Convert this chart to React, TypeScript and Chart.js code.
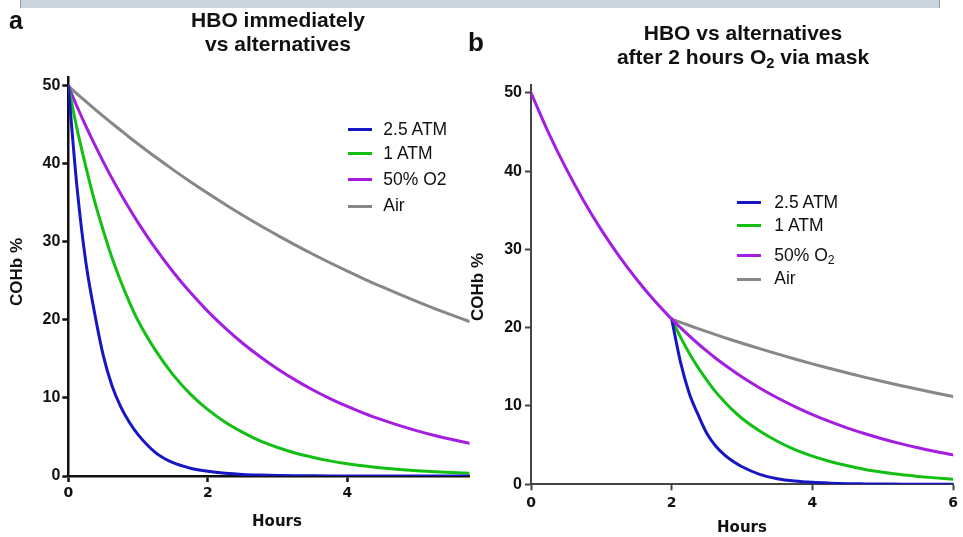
import React, { useEffect, useRef } from "react";
import { Chart, registerables } from "chart.js";

Chart.register(...registerables);

// ---------- data: panel a (HBO immediately vs alternatives) ----------
const hoursA = [0, 0.125, 0.25, 0.375, 0.5, 0.625, 0.75, 0.875, 1, 1.25, 1.5, 1.75, 2, 2.25, 2.5, 2.75, 3, 3.25, 3.5, 3.75, 4, 4.25, 4.5, 4.75, 5, 5.25, 5.5, 5.75];
const atm25A = [50, 37, 27.5, 21, 15.5, 11.6, 8.9, 6.9, 5.3, 3.0, 1.7, 1.0, 0.6, 0.35, 0.2, 0.12, 0.07, 0.04, 0.02, 0.01, 0.01, 0, 0, 0, 0, 0, 0, 0];
const atm1A = [50, 44.5, 39.7, 35.3, 31.5, 28, 25, 22.3, 19.9, 16.1, 13.0, 10.5, 8.5, 6.9, 5.6, 4.5, 3.65, 2.95, 2.4, 1.94, 1.57, 1.27, 1.03, 0.83, 0.67, 0.54, 0.44, 0.36];
const o2A = [50, 47.37, 44.89, 42.54, 40.31, 38.19, 36.19, 34.29, 32.49, 29.17, 26.19, 23.51, 21.11, 18.96, 17.02, 15.28, 13.72, 12.32, 11.06, 9.93, 8.92, 8.0, 7.19, 6.45, 5.79, 5.2, 4.67, 4.19];
const airA = [50, 49.0, 48.03, 47.07, 46.13, 45.22, 44.32, 43.43, 42.57, 40.89, 39.28, 37.73, 36.24, 34.81, 33.43, 32.11, 30.85, 29.63, 28.46, 27.34, 26.26, 25.22, 24.23, 23.27, 22.35, 21.47, 20.63, 19.81];

// ---------- data: panel b (after 2 hours O2 via mask) ----------
const maskHours = [0, 0.25, 0.5, 0.75, 1, 1.25, 1.5, 1.75, 2];
const maskCOHb = [50, 44.89, 40.31, 36.19, 32.49, 29.17, 26.19, 23.51, 21.1];
const postHours = [2, 2.125, 2.25, 2.375, 2.5, 2.625, 2.75, 2.875, 3, 3.25, 3.5, 3.75, 4, 4.25, 4.5, 4.75, 5, 5.25, 5.5, 5.75, 6];
const atm25B = [21.1, 15.6, 11.6, 8.9, 6.5, 4.9, 3.75, 2.9, 2.24, 1.27, 0.72, 0.42, 0.25, 0.15, 0.08, 0.05, 0.03, 0.02, 0.01, 0, 0];
const atm1B = [21.1, 18.8, 16.75, 14.9, 13.3, 11.8, 10.55, 9.4, 8.4, 6.8, 5.5, 4.43, 3.59, 2.91, 2.36, 1.9, 1.54, 1.24, 1.01, 0.82, 0.66];
const o2B = [21.1, 20.0, 18.95, 17.95, 17.0, 16.1, 15.27, 14.47, 13.7, 12.3, 11.05, 9.92, 8.9, 8.0, 7.18, 6.45, 5.79, 5.2, 4.67, 4.19, 3.76];
const airB = [21.1, 20.69, 20.28, 19.89, 19.5, 19.11, 18.74, 18.37, 18.02, 17.32, 16.65, 16.0, 15.38, 14.79, 14.21, 13.66, 13.13, 12.62, 12.13, 11.67, 11.21];

const seriesA = ["2.5 ATM", "1 ATM", "50% O2", "Air"];
const yTicks = [0, 10, 20, 30, 40, 50];
const xTicksA = [0, 2, 4];
const xTicksB = [0, 2, 4, 6];

// ---------- styles ----------
const COLORS = ["#1616c4", "#14bf14", "#a31ee0", "#878787"];

const toPts = (xs: number[], ys: number[]) => xs.map((x, i) => ({ x, y: ys[i] }));
const withMask = (post: number[]) => toPts(maskHours, maskCOHb).concat(toPts(postHours, post).slice(1));

type Geo = {
  top: number; right: number; yW: number; xH: number; xMax: number; yMax: number;
  axisColor: string; axisWidth: number; xPad: number; yPad: number; xTicks: number[];
};

function makeChart(canvas: HTMLCanvasElement, datasets: any[], g: Geo) {
  return new Chart(canvas, {
    type: "line",
    data: { datasets },
    options: {
      animation: false,
      responsive: false,
      devicePixelRatio: 1,
      layout: { padding: { left: 0, top: g.top, right: g.right, bottom: 0 } },
      plugins: { legend: { display: false }, tooltip: { enabled: false } },
      elements: { point: { radius: 0 }, line: { borderWidth: 3, cubicInterpolationMode: "monotone", borderJoinStyle: "round", borderCapStyle: "round" } },
      scales: {
        x: {
          type: "linear",
          min: 0,
          max: g.xMax,
          afterBuildTicks: (s: any) => { s.ticks = g.xTicks.map((v) => ({ value: v })); },
          afterFit: (s: any) => { s.height = g.xH; },
          ticks: {
            padding: g.xPad,
            color: "#111",
            font: { family: "DejaVu Sans", size: 14, weight: "bold" },
            maxRotation: 0,
            autoSkip: false,
          },
          grid: { drawOnChartArea: false, drawTicks: true, tickLength: 6, tickWidth: g.axisWidth, tickColor: g.axisColor },
          border: { display: true, color: g.axisColor, width: g.axisWidth },
        },
        y: {
          type: "linear",
          min: 0,
          max: g.yMax,
          afterBuildTicks: (s: any) => { s.ticks = yTicks.map((v) => ({ value: v })); },
          afterFit: (s: any) => { s.width = g.yW; },
          ticks: {
            padding: g.yPad,
            color: "#111",
            font: { family: "Liberation Sans", size: 16, weight: "bold" },
            autoSkip: false,
          },
          grid: { drawOnChartArea: false, drawTicks: true, tickLength: 6, tickWidth: g.axisWidth, tickColor: g.axisColor },
          border: { display: true, color: g.axisColor, width: g.axisWidth },
        },
      },
    } as any,
  });
}

const abs = (o: React.CSSProperties): React.CSSProperties => ({ position: "absolute", margin: 0, whiteSpace: "nowrap", ...o });

function Legend({ rows, lx, lw, tx }: { rows: { label: React.ReactNode; y: number; color: string }[]; lx: number; lw: number; tx: number }) {
  return (
    <>
      {rows.map((r, i) => (
        <React.Fragment key={i}>
          <div style={abs({ left: lx, top: r.y - 1.5, width: lw, height: 3, background: r.color })} />
          <div style={abs({ left: tx, top: r.y - 8.6, fontFamily: "Liberation Sans, Arial, sans-serif", fontSize: 17.5, lineHeight: "17.5px", color: "#111" })}>{r.label}</div>
        </React.Fragment>
      ))}
    </>
  );
}

const Sub = ({ children }: { children: React.ReactNode }) => (
  <span style={{ fontSize: "0.7em", position: "relative", top: "0.3em", lineHeight: 0 }}>{children}</span>
);

export default function App() {
  const refA = useRef<HTMLCanvasElement | null>(null);
  const refB = useRef<HTMLCanvasElement | null>(null);

  useEffect(() => {
    const dsA = [atm25A, atm1A, o2A, airA].map((vals, i) => ({
      label: seriesA[i],
      data: toPts(hoursA, vals),
      borderColor: COLORS[i],
      borderWidth: 3,
      pointRadius: 0,
      fill: false,
    }));
    // panel b: the 50% O2 line carries the shared 2-hour mask phase; the others start at hour 2
    const orderB = [1, 2, 0, 3];
    const dsB = [atm25B, atm1B, o2B, airB].map((vals, i) => ({
      label: seriesA[i],
      data: i === 2 ? withMask(vals) : toPts(postHours, vals),
      borderColor: COLORS[i],
      borderWidth: 3,
      pointRadius: 0,
      fill: false,
      order: orderB[i],
    }));
    const a = makeChart(refA.current!, dsA, {
      top: 77.4, right: 10.5, yW: 68.3, xH: 61, xMax: 5.75, yMax: 51.1,
      axisColor: "#111", axisWidth: 2.5, xPad: 3, yPad: 2, xTicks: xTicksA,
    });
    const b = makeChart(refB.current!, dsB, {
      top: 84.5, right: 6.3, yW: 51, xH: 52.7, xMax: 6, yMax: 51.06,
      axisColor: "#444", axisWidth: 2, xPad: 5, yPad: 3, xTicks: xTicksB,
    });
    return () => { a.destroy(); b.destroy(); };
  }, []);

  const titleFont: React.CSSProperties = { fontFamily: "Liberation Sans, Arial, sans-serif", fontWeight: "bold", fontSize: 21, lineHeight: "24px", color: "#111", textAlign: "center" };
  const hoursFont: React.CSSProperties = { fontFamily: "DejaVu Sans, sans-serif", fontWeight: "bold", fontSize: 15, lineHeight: "15px", color: "#111", textAlign: "center", width: 100 };
  const yTitle: React.CSSProperties = { fontFamily: "Liberation Sans, Arial, sans-serif", fontWeight: "bold", fontSize: 17, lineHeight: "18px", color: "#111", textAlign: "center", width: 120, height: 18, transform: "rotate(-90deg)" };

  return (
    <div style={{ position: "fixed", left: 0, top: 0, width: 963, height: 537, background: "#fff", overflow: "hidden" }}>
      <div style={abs({ left: 20, top: 0, width: 918, height: 8, background: "#c9d4dc", borderLeft: "1px solid #8d9ca7", borderRight: "1px solid #8d9ca7" })} />
      <canvas ref={refA} width={480} height={537} style={{ position: "absolute", left: 0, top: 0 }} />
      <canvas ref={refB} width={483} height={537} style={{ position: "absolute", left: 480, top: 0 }} />

      <div style={abs({ left: 9, top: 7.5, fontFamily: "Liberation Sans, Arial, sans-serif", fontWeight: "bold", fontSize: 25, lineHeight: "25px", color: "#111" })}>a</div>
      <div style={abs({ left: 468, top: 29, fontFamily: "Liberation Sans, Arial, sans-serif", fontWeight: "bold", fontSize: 26, lineHeight: "26px", color: "#111" })}>b</div>

      <div style={abs({ left: 78, top: 7.5, width: 400, ...titleFont })}>HBO immediately<br />vs alternatives</div>
      <div style={abs({ left: 543, top: 20.5, width: 400, ...titleFont })}>HBO vs alternatives<br />after 2 hours O<Sub>2</Sub> via mask</div>

      <div style={abs({ left: 227, top: 514, ...hoursFont })}>Hours</div>
      <div style={abs({ left: 692, top: 520.3, ...hoursFont })}>Hours</div>
      <div style={abs({ left: 17 - 60, top: 272 - 9, ...yTitle })}>COHb %</div>
      <div style={abs({ left: 478 - 60, top: 287 - 9, ...yTitle })}>COHb %</div>

      <Legend
        lx={348.3} lw={23.4} tx={383.3}
        rows={[
          { label: seriesA[0], y: 129.3, color: COLORS[0] },
          { label: seriesA[1], y: 153.3, color: COLORS[1] },
          { label: seriesA[2], y: 179.3, color: COLORS[2] },
          { label: seriesA[3], y: 206, color: COLORS[3] },
        ]}
      />
      <Legend
        lx={736.7} lw={24} tx={774.3}
        rows={[
          { label: seriesA[0], y: 202.7, color: COLORS[0] },
          { label: seriesA[1], y: 225.7, color: COLORS[1] },
          { label: <>50% O<Sub>2</Sub></>, y: 255.3, color: COLORS[2] },
          { label: seriesA[3], y: 279, color: COLORS[3] },
        ]}
      />
    </div>
  );
}
